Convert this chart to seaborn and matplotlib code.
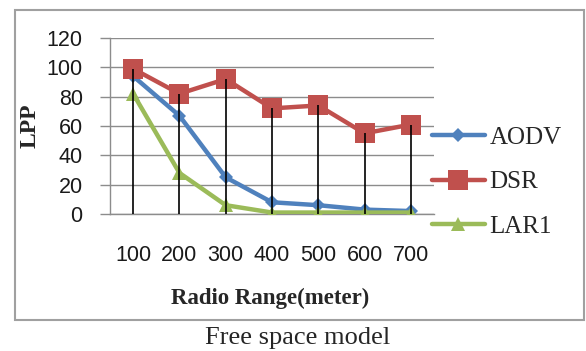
import numpy as np
import pandas as pd
import matplotlib
matplotlib.use("Agg")
import matplotlib.pyplot as plt
from matplotlib.patches import Rectangle
import seaborn as sns

# ---- data ----
ranges = ["100", "200", "300", "400", "500", "600", "700"]
aodv = [94, 67, 25, 8, 6, 3, 2]
dsr = [99, 82, 92, 72, 74, 55, 61]
lar1 = [82, 28, 6, 1, 1, 1, 1]
protocols = ["AODV", "DSR", "LAR1"]
yticks = [0, 20, 40, 60, 80, 100, 120]

sns.set_style("white")
plt.rcParams["font.family"] = ["Liberation Sans Narrow", "Liberation Sans", "DejaVu Sans"]

pos = np.arange(len(ranges))
df = pd.DataFrame({
    "pos": np.tile(pos, 3),
    "LPP": aodv + dsr + lar1,
    "Protocol": np.repeat(protocols, len(ranges)),
})

W, H = 586, 351
fig = plt.figure(figsize=(W / 100, H / 100), dpi=100)
ax = fig.add_axes([110 / W, 1 - 214 / H, (434 - 110) / W, (214 - 38) / H])

colors = {"AODV": "#4F81BD", "DSR": "#C0504D", "LAR1": "#9BBB59"}
markers = {"AODV": "D", "DSR": "s", "LAR1": "^"}
msizes = {"AODV": 7, "DSR": 14, "LAR1": 10.5}
zorders = {"AODV": 3, "DSR": 3.2, "LAR1": 3.1}

for p in protocols:
    sub = df[df["Protocol"] == p]
    sns.lineplot(data=sub, x="pos", y="LPP", ax=ax, color=colors[p],
                 marker=markers[p], markersize=msizes[p], linewidth=3.2,
                 markeredgewidth=0, label=p, zorder=zorders[p])

# drop lines from DSR (top series) to axis
ax.vlines(pos, 0, dsr, colors="black", linewidth=1.2, zorder=5)

ax.set_xlim(-0.5, len(ranges) - 0.5)
ax.set_ylim(0, 120)
ax.set_yticks(yticks)
ax.set_xticks(pos)
ax.set_xticklabels(ranges)
ax.set_xlabel("")
ax.set_ylabel("")
ax.grid(axis="y", color="#8c8c8c", linewidth=1.0)
ax.grid(axis="x", visible=False)
ax.set_axisbelow(True)
for s in ["top", "right"]:
    ax.spines[s].set_visible(False)
for s in ["left", "bottom"]:
    ax.spines[s].set_color("#8c8c8c")
    ax.spines[s].set_linewidth(1.0)

ax.tick_params(axis="y", length=7.2, width=1.0, color="#8c8c8c", pad=12.5,
               labelsize=15.5, labelcolor="#1a1a1a", direction="out", left=True)
ax.tick_params(axis="x", length=0, pad=22, labelsize=15.5, labelcolor="#1a1a1a")

leg = ax.legend(loc="center left", bbox_to_anchor=(432 / W, 1 - 182 / H),
                bbox_transform=fig.transFigure, frameon=False, borderpad=0,
                borderaxespad=0, handlelength=2.1, handletextpad=0.2,
                labelspacing=0.88,
                prop={"family": ["Liberation Serif", "DejaVu Serif"], "size": 18})

fig.text(30 / W, 1 - 126 / H, "LPP", rotation=90, ha="center", va="center",
         fontsize=17, fontweight="bold", family=["Liberation Serif", "DejaVu Serif"])
fig.text(270 / W, 1 - 298 / H, "Radio Range(meter)", ha="center", va="center",
         fontsize=16.5, fontweight="bold", family=["Liberation Serif", "DejaVu Serif"])
fig.text(298 / W, 1 - 338 / H, "Free space model", ha="center", va="center",
         fontsize=19, family=["Liberation Serif", "DejaVu Serif"])

fig.patches.append(Rectangle((15 / W, 1 - 320 / H), (584 - 15) / W, (320 - 10) / H,
                             transform=fig.transFigure, fill=False,
                             edgecolor="#a0a0a0", linewidth=1.5))

fig.savefig("out.png", dpi=100)
